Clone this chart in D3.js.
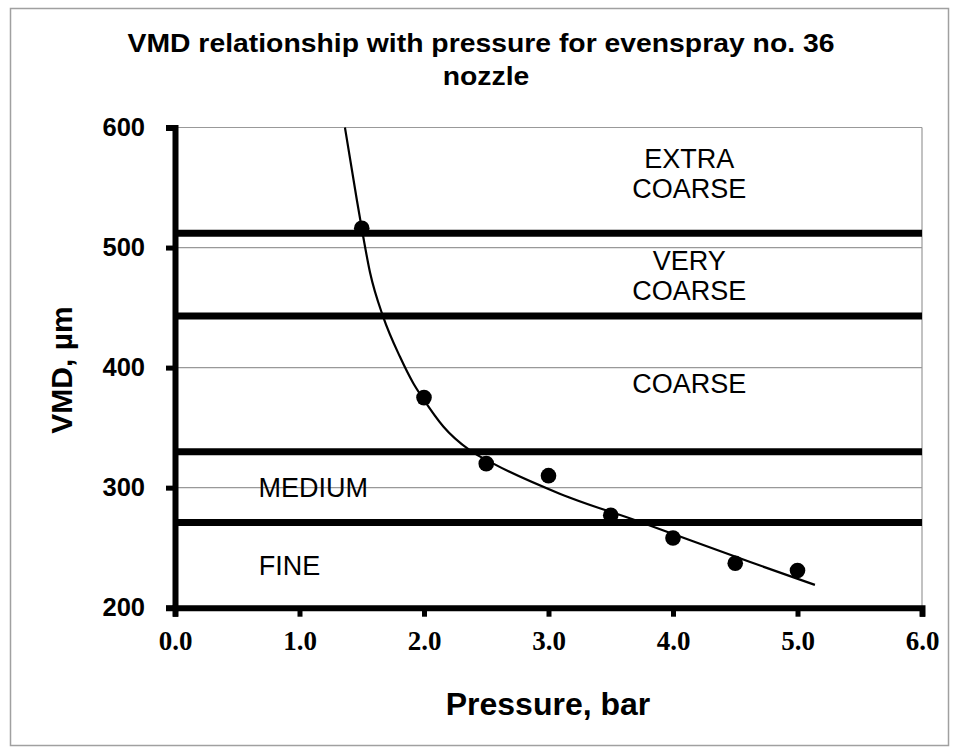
<!DOCTYPE html>
<html><head><meta charset="utf-8">
<script src="https://cdn.jsdelivr.net/npm/d3@7"></script>
<style>body{margin:0;background:#fff;}svg{display:block;}</style>
</head><body>
<svg id="c" width="959" height="751"></svg>
<script>
// ---- data ----
const pressure = [1.5, 2.0, 2.5, 3.0, 3.5, 4.0, 4.5, 5.0];
const vmd = [516, 375, 320, 310, 277, 258, 237, 231];
// fitted trend curve
const trendP = [1.365, 1.46, 1.50, 1.567, 1.673, 1.807, 1.914, 1.994, 2.155, 2.37, 2.557, 3.09, 3.72, 4.62, 5.14];
const trendV = [600, 540, 516, 479, 442, 409, 387, 374, 351, 331, 320, 295, 272, 238, 219];
// spray class boundaries (VMD, µm)
const boundaries = [512, 443, 330, 271];
const classLabels = [
  {lines: ["EXTRA", "COARSE"], p: 4.13, v: 562},
  {lines: ["VERY", "COARSE"], p: 4.13, v: 477},
  {lines: ["COARSE"], p: 4.13, v: 387},
  {lines: ["MEDIUM"], p: 1.11, v: 300},
  {lines: ["FINE"], p: 0.92, v: 235}
];
const xTicks = [0, 1, 2, 3, 4, 5, 6];
const yTicks = [200, 300, 400, 500, 600];
const title = ["VMD relationship with pressure for evenspray no. 36", "nozzle"];

// ---- layout ----
const svg = d3.select("#c");
const x = d3.scaleLinear().domain([0, 6]).range([175, 922]);
const y = d3.scaleLinear().domain([200, 600]).range([607.7, 127.5]);

// outer frame
svg.append("rect").attr("x", 10.5).attr("y", 8.5).attr("width", 938).attr("height", 737)
  .attr("fill", "#fff").attr("stroke", "#a0a0a0").attr("stroke-width", 1.5);

// title
svg.append("g").selectAll("text").data(title).join("text")
  .attr("transform", (d, i) => `translate(${i ? 486 : 481},${52 + i * 33}) scale(1.09,1)`)
  .attr("text-anchor", "middle")
  .attr("font-family", "Liberation Sans, Arial, sans-serif")
  .attr("font-weight", "bold").attr("font-size", 26)
  .text(d => d);

// gridlines
svg.append("g").selectAll("line").data(yTicks.filter(t => t > 200)).join("line")
  .attr("x1", x(0)).attr("x2", x(6))
  .attr("y1", d => y(d)).attr("y2", d => y(d))
  .attr("stroke", "#999").attr("stroke-width", 1.2);
// right border
svg.append("line").attr("x1", x(6)).attr("x2", x(6)).attr("y1", y(600)).attr("y2", y(200))
  .attr("stroke", "#999").attr("stroke-width", 1.2);

// boundary lines
svg.append("g").selectAll("line").data(boundaries).join("line")
  .attr("x1", x(0)).attr("x2", x(6))
  .attr("y1", d => y(d)).attr("y2", d => y(d))
  .attr("stroke", "#000").attr("stroke-width", 7);

// class labels
const lg = svg.append("g").attr("font-family", "Liberation Sans, Arial, sans-serif")
  .attr("font-size", 27).attr("text-anchor", "middle");
classLabels.forEach(c => {
  const n = c.lines.length;
  c.lines.forEach((t, i) => {
    lg.append("text").attr("x", x(c.p))
      .attr("y", y(c.v) + 9.5 + (i - (n - 1) / 2) * 30)
      .text(t);
  });
});

// trend curve
const line = d3.line().x(d => x(d[0])).y(d => y(d[1])).curve(d3.curveMonotoneX);
svg.append("path").datum(trendP.map((p, i) => [p, trendV[i]]))
  .attr("d", line).attr("fill", "none").attr("stroke", "#000").attr("stroke-width", 2.2);

// points
svg.append("g").selectAll("circle").data(pressure.map((p, i) => [p, vmd[i]])).join("circle")
  .attr("cx", d => x(d[0])).attr("cy", d => y(d[1])).attr("r", 7.8).attr("fill", "#000");

// axes
const xAxis = d3.axisBottom(x).tickValues(xTicks).tickFormat(d3.format(".1f")).tickSize(9).tickPadding(14);
const gx = svg.append("g").attr("transform", `translate(0,${y(200)})`).call(xAxis);
gx.select(".domain").attr("stroke", "#000").attr("stroke-width", 6);
gx.selectAll(".tick line").attr("stroke", "#000").attr("stroke-width", 5);
gx.selectAll("text").attr("font-family", "Liberation Serif, Times New Roman, serif")
  .attr("font-weight", "bold").attr("font-size", 27).attr("fill", "#000");

const yAxis = d3.axisLeft(y).tickValues(yTicks).tickSize(9).tickPadding(21);
const gy = svg.append("g").attr("transform", `translate(${x(0)},0)`).call(yAxis);
gy.select(".domain").attr("stroke", "#000").attr("stroke-width", 6);
gy.selectAll(".tick line").attr("stroke", "#000").attr("stroke-width", 5);
gy.selectAll("text").attr("font-family", "Liberation Sans, Arial, sans-serif")
  .attr("font-weight", "bold").attr("font-size", 25.5).attr("fill", "#000");

// axis titles
svg.append("text").attr("x", 548).attr("y", 715).attr("text-anchor", "middle")
  .attr("font-family", "Liberation Sans, Arial, sans-serif").attr("font-weight", "bold")
  .attr("font-size", 32).text("Pressure, bar");
svg.append("text").attr("transform", "translate(72,370) rotate(-90)").attr("text-anchor", "middle")
  .attr("font-family", "Liberation Sans, Arial, sans-serif").attr("font-weight", "bold")
  .attr("font-size", 30).text("VMD, µm");
</script>
</body></html>
